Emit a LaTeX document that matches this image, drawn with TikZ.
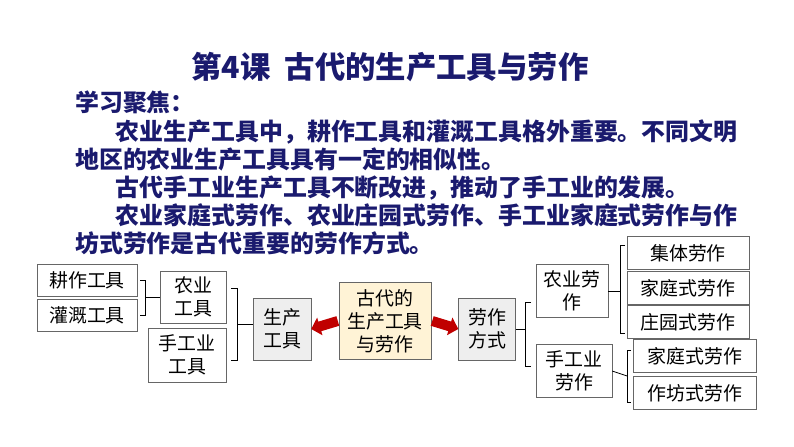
\documentclass[tikz,border=0pt]{standalone}
\usepackage{fontspec}
\setmainfont{Noto Sans CJK SC}
\usetikzlibrary{positioning,calc,arrows.meta}
\definecolor{navy}{HTML}{1A1A6E}
\definecolor{boxgray}{HTML}{EEEEEE}
\definecolor{boxyellow}{HTML}{FFF3D6}
\definecolor{arrowred}{HTML}{C00000}
\begin{document}
\begin{tikzpicture}[x=1bp,y=-1bp,
        item/.style={draw=gray!80!black, fill=white, text=black, align=center, inner sep=1pt, font=\fontsize{19}{23}\selectfont, minimum height=#1},
        item/.default=32bp,
        brk/.style={draw=black, line width=0.8pt},
        bigarrow/.style={-{Triangle[length=9bp,width=18bp]}, arrowred, line width=10bp}
        ]
        \useasboundingbox (0,0) rectangle (794,447);
        % heading and text
        \node[text=navy, font=\bfseries\fontsize{30.5}{33}\selectfont] (title) at (390,67) {第4课\ \ 古代的生产工具与劳作};
        \node[text=navy, anchor=north west, align=left, font=\bfseries\fontsize{24}{28.3}\selectfont, inner sep=0pt] (text) at (75,91)
            {学习聚焦：\\
            \hspace{1.7em}农业生产工具中，耕作工具和灌溉工具格外重要。不同文明\\
            地区的农业生产工具具有一定的相似性。\\
            \hspace{1.7em}古代手工业生产工具不断改进，推动了手工业的发展。\\
            \hspace{1.7em}农业家庭式劳作、农业庄园式劳作、手工业家庭式劳作与作\\
            坊式劳作是古代重要的劳作方式。};
        % left side
        \node[item, minimum width=100bp] (gengzuo) at (87,280) {耕作工具};
        \node[item, minimum width=100bp] (guangai) at (87,315) {灌溉工具};
        \node[item=52bp, minimum width=66bp] (nongye) at (193,297) {农业\\工具};
        \node[item=54bp, minimum width=78bp] (shougong) at (187,355) {手工业\\工具};
        \node[item=62bp, minimum width=58bp, fill=boxgray] (shengchan) at (282,329) {生产\\工具};
        \node[item=77bp, minimum width=92bp, fill=boxyellow] (center) at (385,321) {古代的\\生产工具\\与劳作};
        \node[item=62bp, minimum width=57bp, fill=boxgray] (laozuo) at (487,329) {劳作\\方式};
        % right side
        \node[item=53bp, minimum width=72bp] (nongyelz) at (572,291) {农业劳\\作};
        \node[item=53bp, minimum width=76bp] (shougonglz) at (574,371) {手工业\\劳作};
        \node[item=33bp, minimum width=122bp] (jiti) at (688,253) {集体劳作};
        \node[item=33bp, minimum width=122bp] (jiating) at (688,288) {家庭式劳作};
        \node[item=33bp, minimum width=122bp] (zhuangyuan) at (688,322) {庄园式劳作};
        \node[item=33bp, minimum width=123bp] (jiating2) at (695,356) {家庭式劳作};
        \node[item=33bp, minimum width=123bp] (zuofang) at (695,393) {作坊式劳作};
        % brackets
        \draw[brk] ($(gengzuo.east)+(3,0)$) -- ++(5,0) |- ($(guangai.east)+(3,0)$);
        \draw[brk] ($(gengzuo.east)!0.5!(guangai.east)+(8,0)$) -- (nongye.west |- {$(gengzuo.east)!0.5!(guangai.east)$});
        \draw[brk] (231,288) -- ++(6,0) |- (231,360);
        \draw[brk] (237,324) -- (shengchan.west |- 0,324);
        \draw[brk] (laozuo.east) -- (525,329);
        \draw[brk] (531,302) -- ++(-6,0) |- (531,366);
        \draw[brk] (nongyelz.east) -- (620,291);
        \draw[brk] (625,245) -- ++(-5,0) |- (625,333);
        \draw[brk] (shougonglz.east) -- (627,376);
        \draw[brk] (631,350) -- ++(-4,0) |- (631,402);
        % arrows
        \draw[bigarrow] ($(center.west)+(-1,0)$) -- (shengchan.east);
        \draw[bigarrow] ($(center.east)+(1,0)$) -- (laozuo.west);
\end{tikzpicture}
\end{document}
